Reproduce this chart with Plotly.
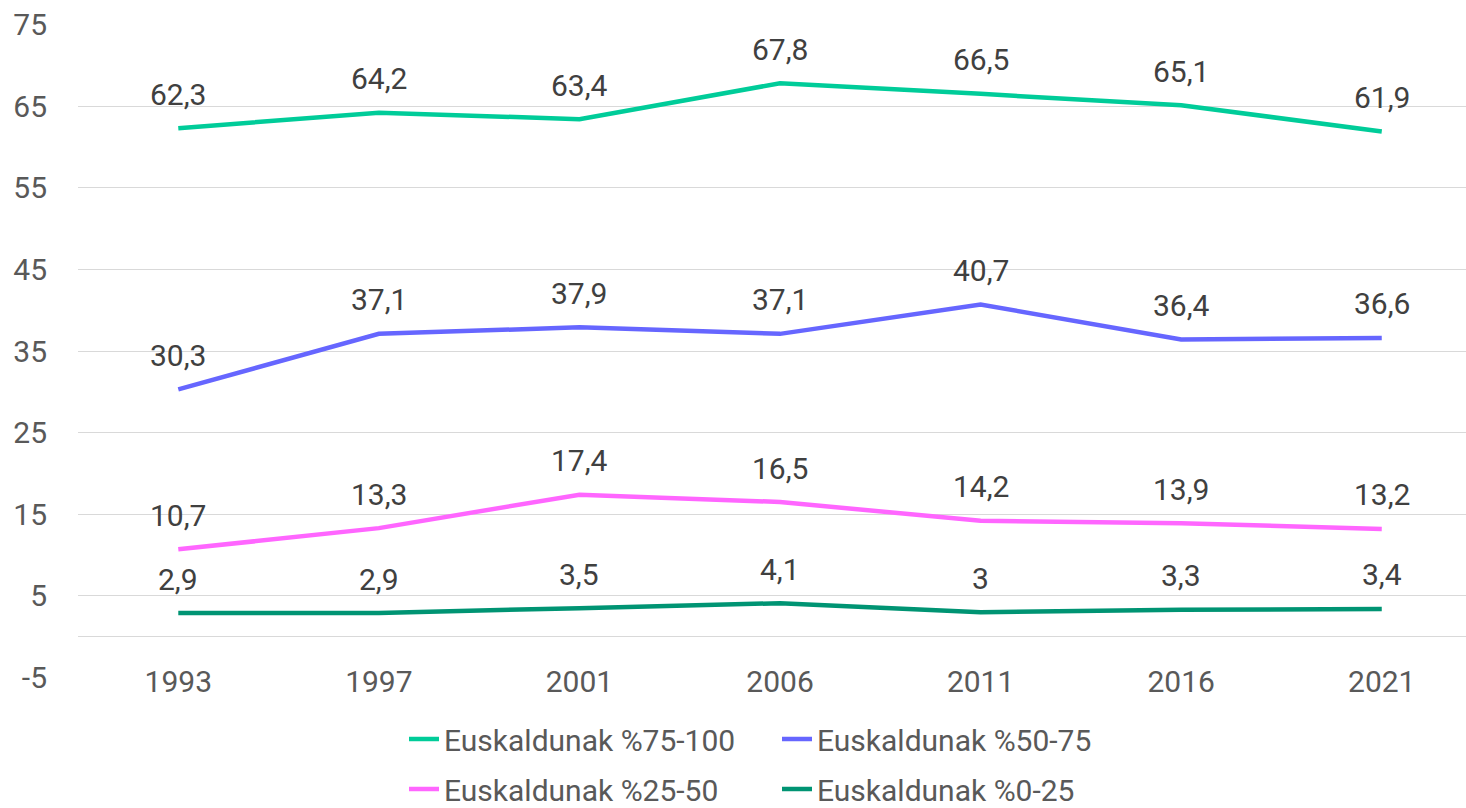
import plotly.graph_objects as go

years = ["1993", "1997", "2001", "2006", "2011", "2016", "2021"]
s75_100 = [62.3, 64.2, 63.4, 67.8, 66.5, 65.1, 61.9]
s50_75 = [30.3, 37.1, 37.9, 37.1, 40.7, 36.4, 36.6]
s25_50 = [10.7, 13.3, 17.4, 16.5, 14.2, 13.9, 13.2]
s0_25 = [2.9, 2.9, 3.5, 4.1, 3.0, 3.3, 3.4]
names = ["Euskaldunak %75-100", "Euskaldunak %50-75", "Euskaldunak %25-50", "Euskaldunak %0-25"]
colors = ["#00CC99", "#6666FF", "#FF66FF", "#009473"]
legend_ids = ["legend", "legend", "legend2", "legend2"]
y_ticks = [-5, 5, 15, 25, 35, 45, 55, 65, 75]

FONT = "Roboto"
FS = 30
series = [s75_100, s50_75, s25_50, s0_25]

def fmt(v):
    return ("%g" % v).replace(".", ",")

fig = go.Figure()
for name, vals, col, lg in zip(names, series, colors, legend_ids):
    fig.add_trace(go.Scatter(
        x=years, y=vals, mode="lines", name=name, legend=lg,
        line=dict(color=col, width=4.5, shape="linear"),
        hoverinfo="skip",
    ))

annotations = []
for vals in series:
    for i, v in enumerate(vals):
        annotations.append(dict(
            x=i, y=v, xref="x", yref="y", text=fmt(v), showarrow=False,
            yshift=34, font=dict(family=FONT, size=FS, color="#404040"),
        ))

legend_common = dict(
    orientation="h", xref="container", yref="container",
    xanchor="left", yanchor="middle",
    entrywidth=328, entrywidthmode="pixels",
    font=dict(family=FONT, size=FS, color="#595959"),
    bgcolor="rgba(0,0,0,0)", tracegroupgap=0,
)

fig.update_layout(
    width=1466, height=808,
    margin=dict(l=78, r=0, t=24, b=130),
    paper_bgcolor="white", plot_bgcolor="white",
    font=dict(family=FONT, size=FS, color="#595959"),
    annotations=annotations,
    xaxis=dict(
        type="category", categoryorder="array", categoryarray=years,
        range=[-0.5, 6.42], showgrid=False, zeroline=False, showline=False,
        anchor="free", position=0.026, automargin=False,
        tickfont=dict(family=FONT, size=FS, color="#595959"),
    ),
    yaxis=dict(
        range=[-5.06, 75.06], tickmode="array", tickvals=y_ticks,
        ticktext=[str(t) for t in y_ticks],
        showgrid=True, gridcolor="#D9D9D9", gridwidth=1.3,
        zeroline=True, zerolinecolor="#D9D9D9", zerolinewidth=1.3,
        showline=False, ticks="outside", ticklen=24, tickcolor="rgba(0,0,0,0)",
        automargin=False,
        tickfont=dict(family=FONT, size=FS, color="#595959"),
    ),
    legend=dict(legend_common, x=404 / 1466, y=1 - 739 / 808),
    legend2=dict(legend_common, x=404 / 1466, y=1 - 789 / 808),
    showlegend=True,
)

fig.write_html(
    "out.html",
    config={"displayModeBar": False},
    post_script="document.body.style.margin='0';document.body.style.overflow='hidden';",
)
